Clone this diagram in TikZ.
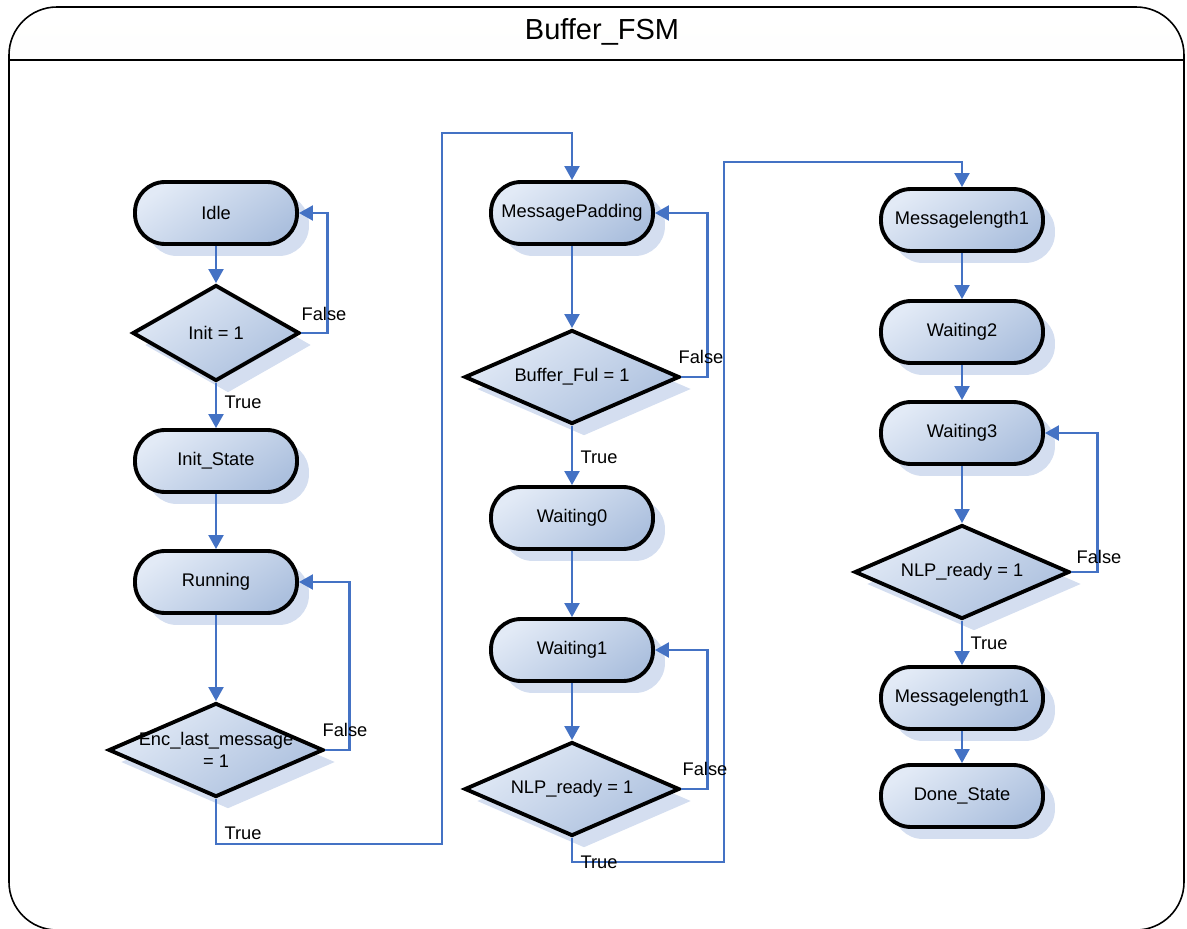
\documentclass[tikz,border=0pt]{standalone}
\usepackage{fontspec}
\setmainfont{Liberation Sans}
\usetikzlibrary{shapes.geometric,arrows.meta,shadows}
\definecolor{flowblue}{RGB}{68,114,196}
\definecolor{statelight}{RGB}{226,234,246}
\definecolor{statedark}{RGB}{172,192,222}
\definecolor{shadowblue}{RGB}{212,222,240}
\definecolor{titlegray}{RGB}{238,239,230}

\begin{document}
\begin{tikzpicture}[
  x=0.02cm, y=-0.02cm,
  font=\fontsize{10.4}{12.5}\selectfont,
  fsmshadow/.style={drop shadow={shadow xshift=0.24cm,shadow yshift=-0.24cm,fill=shadowblue,opacity=1}},
  state/.style={draw,line width=2.2pt,rounded corners=0.6cm,minimum width=3.24cm,minimum height=1.24cm,top color=statelight,bottom color=statedark,shading angle=35,fsmshadow},
  decision/.style={diamond,shape aspect=2.3,draw,line width=2.2pt,inner sep=0pt,minimum width=4.3cm,minimum height=1.88cm,top color=statelight,bottom color=statedark,shading angle=35,fsmshadow,align=center},
  flow/.style={line width=1.4pt,draw=flowblue,-{Triangle[length=8pt,width=8.5pt]}},
  lbl/.style={inner sep=0pt},
]

\useasboundingbox (0,0) rectangle (1187,929);
\clip (0,0) rectangle (1187,929);

\begin{scope}
  \clip (0,0) rectangle (1187,60);
  \fill[top color=white,bottom color=titlegray,rounded corners=0.96cm] (9,7) rectangle (1184,930);
\end{scope}
\draw[line width=0.9pt,rounded corners=0.96cm] (9,7) rectangle (1184,930);
\draw[line width=0.9pt] (9,60) -- (1184,60);
\node[font=\fontsize{16.5}{19}\selectfont] (title) at (602,32) {Buffer\_FSM};

\node[state] (idle) at (216,213) {Idle};
\node[decision,minimum width=3.34cm,minimum height=1.92cm] (initq) at (216,333) {Init = 1};
\node[state] (initstate) at (216,461) {Init\_State};
\node[state] (running) at (216,582) {Running};
\node[decision] (endq) at (216,750) {\makebox[0pt]{Enc\_last\_message}\\= 1};

\node[state] (padding) at (572,213) {MessagePadding};
\node[decision] (fullq) at (572,377) {Buffer\_Ful = 1};
\node[state] (wait0) at (572,518) {Waiting0};
\node[state] (wait1) at (572,650) {Waiting1};
\node[decision] (readyqa) at (572,789) {NLP\_ready = 1};

\node[state] (lena) at (962,220) {Messagelength1};
\node[state] (wait2) at (962,332) {Waiting2};
\node[state] (wait3) at (962,433) {Waiting3};
\node[decision] (readyqb) at (962,572) {NLP\_ready = 1};
\node[state] (lenb) at (962,698) {Messagelength1};
\node[state] (done) at (962,796) {Done\_State};

\draw[flow] (idle) -- (initq);
\draw[flow] (initq) -- (initstate);
\draw[flow] (initstate) -- (running);
\draw[flow] (running) -- (endq);
\draw[flow] (initq.east) -- ++(26,0) |- (idle.east);
\draw[flow] (endq.east) -- ++(24,0) |- (running.east);
\draw[flow] (endq.south) -- ++(0,45) -| (442,133) -| (padding.north);

\draw[flow] (padding) -- (fullq);
\draw[flow] (fullq) -- (wait0);
\draw[flow] (wait0) -- (wait1);
\draw[flow] (wait1) -- (readyqa);
\draw[flow] (fullq.east) -- ++(26,0) |- (padding.east);
\draw[flow] (readyqa.east) -- ++(26,0) |- (wait1.east);
\draw[flow] (readyqa.south) -- ++(0,24) -| (724,162) -| (lena.north);

\draw[flow] (lena) -- (wait2);
\draw[flow] (wait2) -- (wait3);
\draw[flow] (wait3) -- (readyqb);
\draw[flow] (readyqb) -- (lenb);
\draw[flow] (lenb) -- (done);
\draw[flow] (readyqb.east) -- ++(26,0) |- (wait3.east);

\node[lbl] (f1) at (324,314) {False};
\node[lbl] (t1) at (243,402) {True};
\node[lbl] (f2) at (345,730) {False};
\node[lbl] (t2) at (243,833) {True};
\node[lbl] (f3) at (701,357) {False};
\node[lbl] (t3) at (599,457) {True};
\node[lbl] (f4) at (705,769) {False};
\node[lbl] (t4) at (599,862) {True};
\node[lbl] (f5) at (1099,557) {False};
\node[lbl] (t5) at (989,643) {True};

\end{tikzpicture}
\end{document}
